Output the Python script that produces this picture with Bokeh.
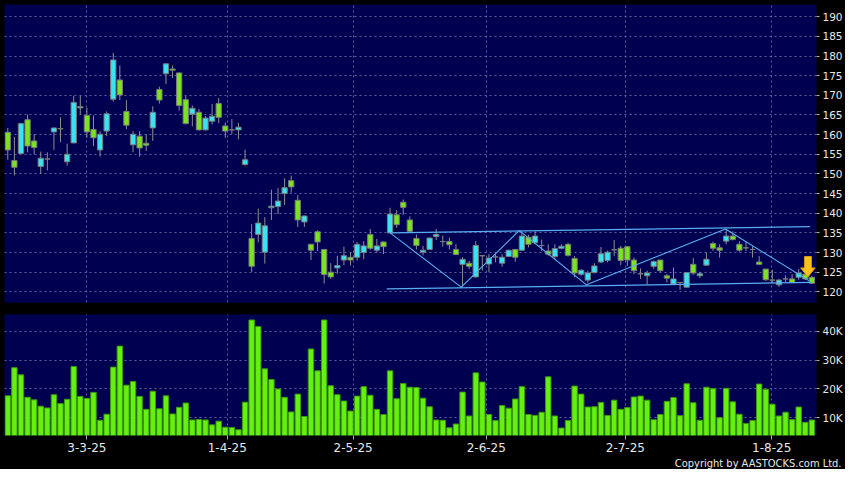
from bokeh.plotting import figure
from bokeh.layouts import column
from bokeh.models import Range1d, FixedTicker, Title, ColumnDataSource
from bokeh.embed import file_html
from bokeh.resources import INLINE

# ---------------- data ----------------
opens = [160.6, 153.4, 155.2, 163.8, 158.4, 151.9, 153.8, 160.7, 161.5, 153.1,
         157.9, 166.8, 164.9, 161.3, 156.1, 160.9, 169.0, 173.9, 165.9, 157.4,
         159.6, 157.8, 161.7, 171.5, 175.5, 176.7, 175.7, 168.9, 165.2, 165.7,
         161.2, 163.4, 167.9, 162.2, 161.2, 161.2, 152.4, 133.6, 134.6, 130.1,
         141.4, 141.7, 145.0, 148.3, 143.3, 137.8, 132.1, 135.3, 130.8, 125.0,
         126.1, 128.1, 128.8, 128.8, 130.0, 134.6, 130.6, 132.7, 135.0, 139.6,
         142.8, 138.3, 133.6, 130.1, 130.8, 134.1, 132.8, 132.8, 130.8, 127.0,
         127.3, 123.8, 129.2, 127.1, 128.9, 127.3, 129.0, 130.8, 130.6, 133.9,
         132.5, 131.8, 130.4, 129.0, 131.1, 132.1, 128.5, 124.5, 123.0, 124.9,
         127.6, 128.0, 130.7, 131.1, 131.5, 128.1, 124.6, 124.1, 126.5, 128.1,
         124.1, 122.0, 122.4, 121.2, 127.0, 124.1, 126.8, 132.3, 131.2, 132.9,
         134.2, 132.1, 131.2, 130.8, 127.6, 125.8, 123.0, 121.8, 123.3, 123.3,
         123.7, 124.5, 123.7]
highs = [161.7, 159.4, 163.0, 165.1, 160.1, 155.7, 155.5, 161.8, 164.4, 157.7,
         169.9, 169.9, 166.8, 164.9, 160.9, 165.9, 180.8, 177.6, 168.8, 160.9,
         160.9, 160.1, 167.2, 172.2, 178.1, 177.6, 175.8, 169.9, 167.4, 166.5,
         164.7, 167.8, 169.3, 163.1, 164.0, 163.0, 156.2, 137.2, 141.2, 139.0,
         146.0, 146.4, 148.9, 149.6, 144.6, 139.4, 132.2, 135.7, 130.9, 127.3,
         129.2, 131.5, 130.0, 132.7, 132.9, 136.0, 133.5, 132.8, 141.4, 140.8,
         143.5, 139.2, 134.6, 131.7, 133.8, 136.0, 134.3, 133.8, 132.1, 128.8,
         127.9, 132.9, 129.4, 129.6, 129.6, 129.6, 130.7, 130.9, 135.4, 134.5,
         135.4, 133.3, 132.1, 132.1, 132.1, 132.5, 129.1, 125.8, 125.4, 127.3,
         131.4, 130.5, 133.2, 131.7, 131.6, 128.7, 126.0, 125.4, 128.0, 128.1,
         124.5, 126.2, 122.4, 125.0, 128.6, 125.1, 130.0, 132.8, 132.1, 136.0,
         135.4, 132.9, 132.8, 131.6, 129.1, 125.8, 125.6, 123.3, 124.2, 124.5,
         125.8, 125.0, 124.1]
lows = [153.6, 149.6, 155.0, 155.5, 155.0, 150.0, 150.9, 156.1, 158.1, 152.1,
        157.8, 165.1, 159.2, 157.1, 154.4, 159.6, 168.4, 168.8, 161.4, 155.5,
        154.4, 155.9, 158.4, 167.9, 172.9, 174.4, 166.1, 162.6, 162.1, 161.1,
        161.1, 162.6, 162.9, 159.2, 160.1, 158.8, 152.1, 125.1, 132.6, 127.2,
        138.3, 139.8, 142.1, 145.2, 136.5, 136.5, 128.1, 130.4, 122.1, 123.3,
        124.6, 126.8, 126.7, 128.0, 128.3, 130.7, 130.0, 129.6, 134.9, 136.3,
        139.6, 135.2, 130.8, 129.3, 130.7, 133.2, 131.5, 130.8, 129.4, 121.3,
        125.8, 123.7, 125.4, 125.0, 127.5, 126.4, 128.9, 127.7, 130.4, 131.3,
        132.1, 130.4, 129.2, 128.3, 130.8, 129.0, 123.7, 124.1, 122.4, 124.7,
        127.3, 127.5, 129.1, 126.8, 126.6, 124.5, 123.3, 121.8, 125.9, 124.9,
        122.4, 121.8, 120.5, 121.1, 124.3, 123.5, 126.6, 130.4, 128.7, 132.1,
        133.1, 130.2, 130.4, 128.7, 126.8, 122.8, 122.2, 121.3, 122.5, 122.2,
        123.1, 123.0, 122.0]
closes = [156.1, 151.7, 162.8, 157.1, 156.7, 154.0, 153.8, 161.7, 161.5, 155.0,
          168.2, 167.1, 160.7, 159.2, 160.1, 165.3, 179.0, 170.1, 162.4, 160.1,
          156.6, 157.3, 165.7, 168.8, 178.0, 176.4, 167.4, 162.8, 166.7, 161.2,
          164.2, 164.7, 164.4, 160.9, 161.2, 161.9, 153.6, 126.5, 137.5, 136.8,
          141.8, 143.1, 146.5, 146.7, 138.3, 139.3, 130.6, 132.7, 124.4, 123.8,
          126.7, 129.2, 128.1, 132.1, 131.7, 131.1, 131.7, 131.5, 139.8, 137.1,
          141.5, 135.4, 131.8, 130.6, 133.7, 134.6, 132.8, 132.0, 129.5, 128.3,
          126.5, 131.8, 129.2, 128.6, 128.9, 128.8, 130.6, 128.8, 134.2, 132.1,
          134.2, 131.8, 129.6, 131.0, 131.6, 129.3, 124.8, 125.5, 124.8, 126.6,
          129.7, 130.1, 130.7, 128.0, 128.1, 125.4, 124.6, 124.8, 127.7, 125.4,
          123.5, 123.3, 122.4, 124.9, 124.8, 124.6, 128.3, 131.1, 130.6, 134.2,
          133.3, 130.6, 131.2, 130.8, 127.0, 123.1, 123.0, 123.0, 123.3, 122.4,
          124.8, 123.3, 122.2]
volumes_k = [17.6, 27.4, 24.9, 17.1, 16.2, 14.0, 13.4, 18.0, 14.9, 16.4,
             27.8, 17.4, 16.7, 18.8, 9.1, 11.2, 27.6, 34.9, 21.3, 22.6,
             17.4, 12.9, 19.2, 13.1, 17.6, 11.3, 13.6, 15.1, 9.2, 9.4,
             9.2, 7.5, 8.8, 6.7, 6.6, 5.8, 15.4, 44.0, 41.7, 27.0,
             23.3, 20.0, 17.1, 12.0, 18.2, 10.4, 33.9, 26.3, 44.0, 21.1,
             18.0, 15.8, 12.3, 17.5, 20.8, 17.8, 12.9, 11.1, 26.3, 16.6,
             21.9, 20.6, 20.5, 16.8, 13.8, 9.2, 9.1, 6.5, 7.8, 18.9,
             10.6, 25.6, 22.4, 11.1, 9.0, 14.2, 13.3, 16.5, 20.8, 11.1,
             10.8, 11.9, 24.2, 10.6, 6.4, 9.0, 21.0, 18.2, 13.7, 13.8,
             15.3, 10.8, 16.1, 12.9, 13.5, 17.2, 17.5, 16.1, 9.3, 11.1,
             15.7, 17.0, 10.7, 21.8, 15.2, 9.1, 20.6, 20.1, 10.0, 20.2,
             15.5, 11.2, 8.0, 9.0, 21.7, 19.9, 14.7, 10.6, 11.9, 9.3,
             13.7, 8.4, 9.2]

date_labels = ["3-3-25", "1-4-25", "2-5-25", "2-6-25", "2-7-25", "1-8-25"]
date_ticks = [12.0, 33.3, 52.4, 72.6, 93.7, 115.9]      # bar index of each date label
price_ticks = list(range(120, 191, 5))
volume_ticks = [10000, 20000, 30000, 40000]
volume_tick_labels = ["10K", "20K", "30K", "40K"]

# drawn channel / zig-zag pattern lines (bar index, price)
channel_top = ([58, 121.7], [135.0, 136.6])
channel_bottom = ([57.5, 121.9], [120.75, 122.4])
zigzag = ([58, 68.8, 77.6, 87.8, 108.9, 121.6], [135.0, 121.2, 135.6, 121.8, 136.0, 122.8])
# signal arrow (bar index, top price, tip price)
arrow_idx, arrow_top, arrow_tip = 121.4, 129.0, 123.8

# ---------------- styling ----------------
BG = "#000050"
BORDER = "#000000"
UP = "#38e4f2"
DOWN = "#7ae41e"
FLAT = "#8c8c8c"
GRID = "#6a6aaa"
TXT = "#e6e6e6"
FONT = "DejaVu Sans"

n = len(opens)
idx = list(range(n))
body_top = [max(o, c) for o, c in zip(opens, closes)]
body_bot = [min(o, c) for o, c in zip(opens, closes)]
colors = [UP if c > o else (DOWN if c < o else FLAT) for o, c in zip(opens, closes)]
volumes = [v * 1000 for v in volumes_k]

src = ColumnDataSource(dict(x=idx, top=body_top, bot=body_bot, hi=highs, lo=lows,
                            color=colors, vol=volumes))

x_range = Range1d(-0.5, 122.7)
FW = 812
LEFT = 4
RIGHT = 26


def style_common(p):
    p.background_fill_color = BG
    p.border_fill_color = BORDER
    p.outline_line_color = None
    for g in (p.xgrid, p.ygrid):
        g.grid_line_color = GRID
        g.grid_line_dash = "2 3"
        g.grid_line_width = 1
        g.grid_line_alpha = 0.9
    ax = p.yaxis
    ax.axis_line_color = None
    ax.major_tick_in = 0
    ax.major_tick_out = 3
    ax.minor_tick_line_color = None
    ax.major_tick_line_color = "#b0b0b0"
    ax.major_label_standoff = 3
    ax.major_label_text_font = FONT
    ax.major_label_text_font_size = "10.5px"
    ax.major_label_text_color = TXT


# ---------------- price panel ----------------
p1 = figure(x_range=x_range, y_range=Range1d(117.3, 193.1),
            frame_width=FW, frame_height=298,
            y_axis_location="right", output_backend="svg", toolbar_location=None,
            min_border_left=LEFT, min_border_right=RIGHT, min_border_top=4, min_border_bottom=12,
            title=None)
style_common(p1)
p1.xaxis.visible = False
p1.xgrid.ticker = FixedTicker(ticks=date_ticks)
p1.ygrid.ticker = FixedTicker(ticks=price_ticks)
p1.yaxis.ticker = FixedTicker(ticks=price_ticks)

p1.segment(x0="x", y0="hi", x1="x", y1="lo", source=src, line_color="#8e8e8e", line_width=1)
p1.vbar(x="x", top="top", bottom="bot", width=0.8, source=src,
        fill_color="color", line_color="#7a7a7a", line_width=1)

p1.line(channel_top[0], channel_top[1], line_color="#58aef0", line_width=1.2)
p1.line(channel_bottom[0], channel_bottom[1], line_color="#58aef0", line_width=1.2)
p1.line(zigzag[0], zigzag[1], line_color="#58aef0", line_width=1.1)

shaft, head = 0.53, 1.1
neck = arrow_tip + (arrow_top - arrow_tip) * 0.44
p1.patch([arrow_idx - shaft, arrow_idx + shaft, arrow_idx + shaft, arrow_idx + head,
          arrow_idx, arrow_idx - head, arrow_idx - shaft],
         [arrow_top, arrow_top, neck, neck, arrow_tip, neck, neck],
         fill_color="#f6c21e", line_color="#d9980a", line_width=1)

# ---------------- volume panel ----------------
p2 = figure(x_range=x_range, y_range=Range1d(3800, 45900),
            frame_width=FW, frame_height=121,
            y_axis_location="right", output_backend="svg", toolbar_location=None,
            min_border_left=LEFT, min_border_right=RIGHT, min_border_top=0, min_border_bottom=0,
            title=None)
style_common(p2)
p2.xgrid.ticker = FixedTicker(ticks=date_ticks)
p2.ygrid.ticker = FixedTicker(ticks=volume_ticks)
p2.yaxis.ticker = FixedTicker(ticks=volume_ticks)
p2.yaxis.major_label_overrides = {t: l for t, l in zip(volume_ticks, volume_tick_labels)}

xa = p2.xaxis
xa.ticker = FixedTicker(ticks=date_ticks)
xa.major_label_overrides = {t: l for t, l in zip(date_ticks, date_labels)}
xa.axis_line_color = None
xa.major_tick_in = 0
xa.major_tick_out = 4
xa.minor_tick_line_color = None
xa.major_tick_line_color = "#b0b0b0"
xa.major_label_standoff = 3
xa.major_label_text_font = FONT
xa.major_label_text_font_size = "12px"
xa.major_label_text_color = TXT

p2.vbar(x="x", top="vol", bottom=0, width=0.82, source=src,
        fill_color="#66f010", line_color="#3c9a0c", line_width=1)

p2.add_layout(Title(text="Copyright by AASTOCKS.com Ltd.", align="right",
                    text_font="DejaVu Sans Condensed", text_font_size="11px",
                    text_font_style="normal",
                    text_color=TXT, offset=-25, standoff=0), "below")

layout = column(p1, p2, spacing=0, styles={"background-color": BORDER})
open("out.html", "w").write(file_html(layout, INLINE))
